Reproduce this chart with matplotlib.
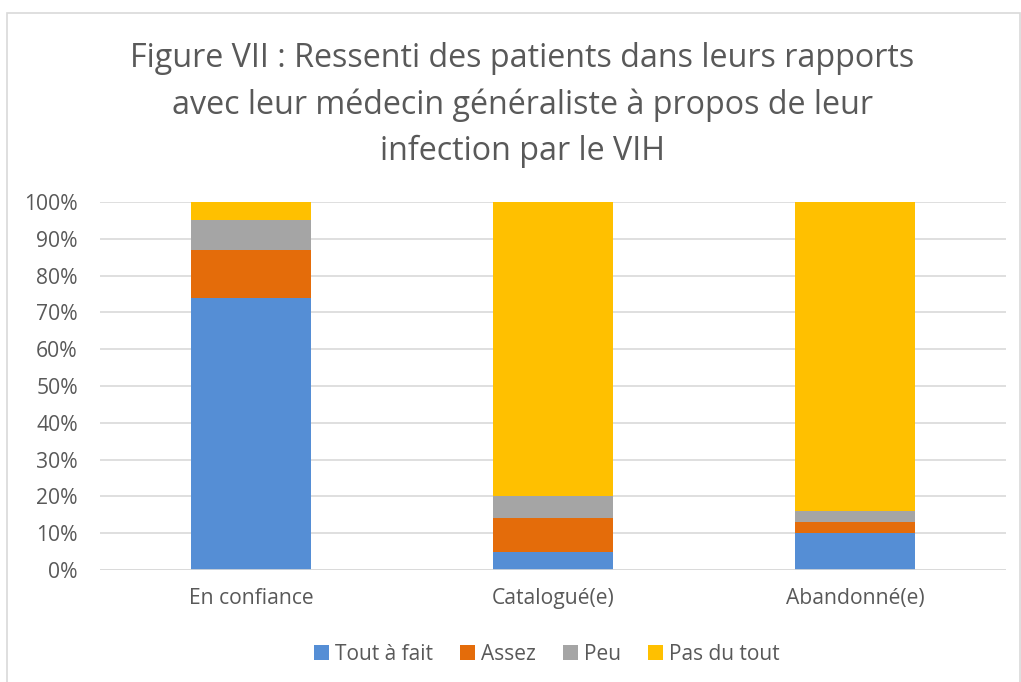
import numpy as np
import matplotlib
matplotlib.use("Agg")
import matplotlib.pyplot as plt
from matplotlib.patches import Rectangle

categories = ["En confiance", "Catalogué(e)", "Abandonné(e)"]
series = ["Tout à fait", "Assez", "Peu", "Pas du tout"]
tout_a_fait = [74, 5, 10]
assez = [13, 9, 3]
peu = [8, 6, 3]
pas_du_tout = [5, 80, 84]
colors = ["#558ED5", "#E46C0A", "#A5A5A5", "#FFC000"]

TXT, GRID = "#595959", "#D9D9D9"
plt.rcParams["font.family"] = ["Open Sans", "DejaVu Sans"]

W, H = 1021, 682
fig = plt.figure(figsize=(W / 100, H / 100), dpi=100)
fig.patch.set_facecolor("white")

# chart-area border (cropped at the bottom)
fig.add_artist(Rectangle((6.5 / W, -0.05), (1020 - 6.5) / W, 1.05 - 12.5 / H,
                         transform=fig.transFigure, fill=False,
                         edgecolor=GRID, lw=1.2))

ax = fig.add_axes([100 / W, (H - 570) / H, 906 / W, 368 / H])
x = np.arange(len(categories))
bottom = np.zeros(len(categories))
for name, vals, c in zip(series, [tout_a_fait, assez, peu, pas_du_tout], colors):
    ax.bar(x, vals, bottom=bottom, width=0.4, color=c, label=name, zorder=3)
    bottom += np.array(vals)

ax.set_xlim(-0.5, 2.5)
ax.set_ylim(0, 100)
ax.set_yticks(range(0, 101, 10))
ax.set_yticklabels([f"{v}%" for v in range(0, 101, 10)])
ax.set_xticks(x)
ax.set_xticklabels(categories)
ax.yaxis.grid(True, color=GRID, lw=1.2, zorder=0)
for s in ax.spines.values():
    s.set_visible(False)
ax.axhline(0, color=GRID, lw=1.2, zorder=4)
ax.tick_params(axis="both", length=0, colors=TXT, labelsize=15.2)
ax.tick_params(axis="y", pad=16)
ax.tick_params(axis="x", pad=13)

fig.text(522 / W, (H - 105) / H,
         "Figure VII : Ressenti des patients dans leurs rapports\n"
         "avec leur médecin généraliste à propos de leur\n"
         "infection par le VIH",
         ha="center", va="center", fontsize=23.2, color=TXT, linespacing=1.53)

handles, labels = ax.get_legend_handles_labels()
fig.legend(handles, labels, loc="center", bbox_to_anchor=(547 / W, (H - 654) / H),
           ncol=4, frameon=False, fontsize=15, labelcolor=TXT,
           handlelength=0.7, handleheight=0.7, handletextpad=0.3,
           columnspacing=1.3)

fig.savefig("out.png", dpi=100, facecolor="white")
